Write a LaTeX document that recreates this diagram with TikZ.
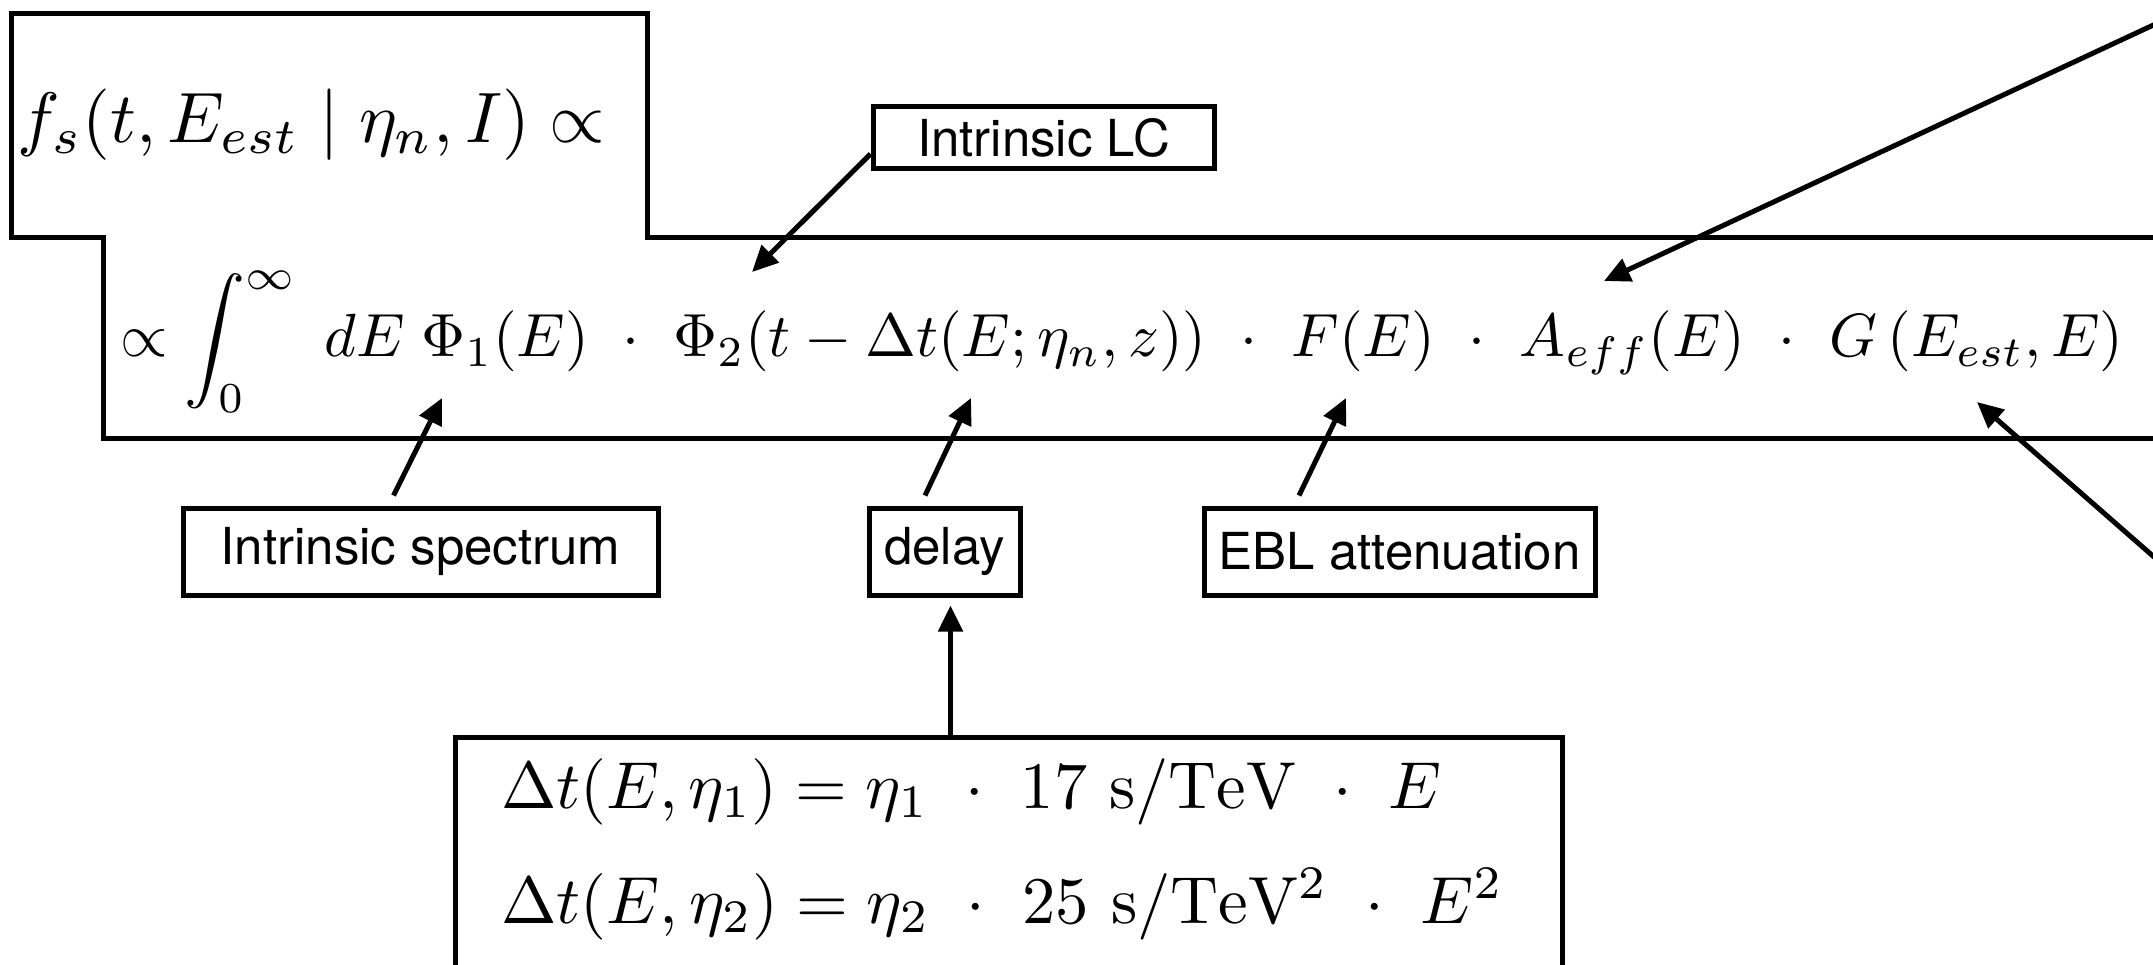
\documentclass[tikz,border=0pt]{standalone}
\usepackage{fontspec}
\setsansfont{TeX Gyre Heros}
\usetikzlibrary{arrows.meta}
\begin{document}
\begin{tikzpicture}[x=1pt,y=-1pt,
  boxline/.style={line width=5pt, line join=miter},
  lbl/.style={draw, line width=5pt, inner sep=0pt, font=\sffamily\fontsize{51}{61}\selectfont},
  arr/.style={-{Triangle[length=26pt,width=24pt]}, line width=5pt},
  frm/.style={inner sep=0pt, anchor=base west}]
\useasboundingbox (0,0) rectangle (2153,965);
\clip (0,0) rectangle (2153,965);
% outline of the two formula boxes
\draw[boxline] (2220,238) -- (647,238) -- (647,14) -- (11,14) -- (11,238) -- (103,238) -- (103,439) -- (2220,439);
% formulas
\node[frm] (ftop) at (17,143) {\resizebox{588pt}{!}{$f_s(t,E_{est}\mid\eta_n,I)\propto$}};
\node[frm] (fmain) at (120,357) {\resizebox{2003pt}{!}{$\propto\displaystyle\int_0^\infty\; dE\;\Phi_1(E)\ \cdot\ \Phi_2(t-\Delta t(E;\eta_n,z))\ \cdot\ F(E)\ \cdot\ A_{eff}(E)\ \cdot\ G\,(E_{est},E)$}};
% labels
\node[lbl, minimum width=341pt, minimum height=62pt] (lc) at (1043.5,138) {Intrinsic LC};
\node[lbl, minimum width=475pt, minimum height=87pt] (spec) at (420.5,551.5) {Intrinsic spectrum};
\node[lbl, minimum width=151pt, minimum height=87pt] (delay) at (944.5,551.5) {delay};
\node[lbl, minimum width=391pt, minimum height=87pt] (ebl) at (1399.5,551.5) {EBL attenuation};
% bottom box
\node[draw, line width=5pt, minimum width=1107pt, minimum height=400pt, anchor=north west, inner sep=0pt] (dtbox) at (453,735) {};
\node[frm] (dt1) at (501,808) {\resizebox{940pt}{!}{$\Delta t(E,\eta_1) = \eta_1\ \cdot\ 17\ \mathrm{s/TeV}\ \cdot\ E$}};
\node[frm] (dt2) at (501,923) {\resizebox{1002pt}{!}{$\Delta t(E,\eta_2) = \eta_2\ \cdot\ 25\ \mathrm{s/TeV^2}\ \cdot\ E^2$}};
% arrow targets and free ends
\coordinate (tPhiA) at (442,398);
\coordinate (tDelta) at (971,398);
\coordinate (tF) at (1346,398);
\coordinate (tPhiB) at (752,272);
\coordinate (tAeff) at (1604,281);
\coordinate (tG) at (1977,402);
\coordinate (srcA) at (2250,-20);
\coordinate (srcG) at (2250,641);
% connectors
\draw[arr] ([yshift=-16pt]lc.west) -- (tPhiB);
\draw[arr] ([xshift=-27pt,yshift=10pt]spec.north) -- (tPhiA);
\draw[arr] ([xshift=-19.5pt,yshift=10pt]delay.north) -- (tDelta);
\draw[arr] ([xshift=-100.5pt,yshift=10pt]ebl.north) -- (tF);
\draw[arr] ([xshift=6pt]delay.south |- dtbox.north) -- ([xshift=6pt,yshift=-8pt]delay.south);
\draw[arr] (srcA) -- (tAeff);
\draw[arr] (srcG) -- (tG);
\end{tikzpicture}
\end{document}
